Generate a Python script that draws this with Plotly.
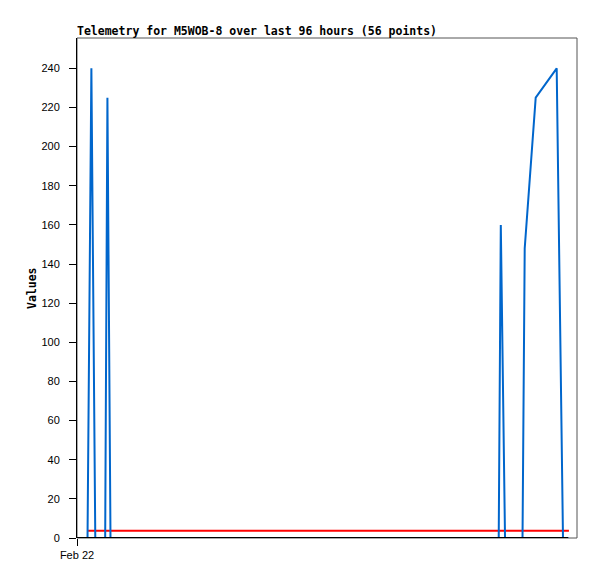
#!/usr/bin/env python3
"""
Telemetry chart for M5WOB-8 (last 96 hours)
"""

from datetime import datetime, timedelta

import plotly.graph_objects as go

# Start of the 96 hour window
start = datetime(2024, 2, 22, 0, 0)
window_hours = 96

# Blue series: hours since start, values
value_hours = [2.02, 2.76, 3.51, 5.41, 5.84, 6.43, 80.97, 81.37, 82.18,
               85.54, 85.96, 88.07, 92.10, 93.31, 94.37]
value_values = [0, 240, 0, 0, 225, 0, 0, 160, 0,
                0, 148, 225, 240, 0, 0]

# Red reference series
limit_hours = [2.12, 94.45]
limit_values = [3.7, 3.7]

# Black zero series
zero_hours = [0, 94.3]
zero_values = [0, 0]

x_tick_labels = ["Feb 22"]
y_ticks = [0, 20, 40, 60, 80, 100, 120, 140, 160, 180, 200, 220, 240]

# page body has an 8px margin, so the figure is drawn 8px smaller
FIG_W, FIG_H = 589, 571


def to_dates(hours):
    return [start + timedelta(hours=h) for h in hours]


fig = go.Figure()

fig.add_trace(
    go.Scatter(
        x=to_dates(limit_hours),
        y=limit_values,
        mode="lines",
        line=dict(color="#ff0000", width=2),
        cliponaxis=False,
        hoverinfo="skip",
    )
)

fig.add_trace(
    go.Scatter(
        x=to_dates(value_hours),
        y=value_values,
        mode="lines",
        line=dict(color="#0066cc", width=2),
        cliponaxis=False,
    )
)

fig.add_trace(
    go.Scatter(
        x=to_dates(zero_hours),
        y=zero_values,
        mode="lines",
        line=dict(color="#000000", width=2),
        cliponaxis=False,
        hoverinfo="skip",
    )
)

# Gray frame around the plot area
fig.add_shape(
    type="rect",
    xref="paper", yref="paper",
    x0=0, y0=0, x1=1, y1=1,
    line=dict(color="#555555", width=1),
    layer="below",
)

fig.update_layout(
    width=FIG_W,
    height=FIG_H,
    showlegend=False,
    plot_bgcolor="white",
    paper_bgcolor="white",
    margin=dict(l=69, r=20, t=30, b=41),
    title=dict(
        text="<b>Telemetry for M5WOB-8 over last 96 hours (56 points)</b>",
        font=dict(family="DejaVu Sans Mono", size=11.5, color="black"),
        x=69 / FIG_W,
        xanchor="left",
        xref="container",
        y=1 - 23 / FIG_H,
        yanchor="middle",
    ),
    xaxis=dict(
        type="date",
        range=[start, start + timedelta(hours=window_hours)],
        tickvals=[start],
        ticktext=x_tick_labels,
        ticks="outside",
        ticklen=7,
        tickcolor="black",
        showgrid=False,
        zeroline=False,
        showline=False,
        tickfont=dict(family="Liberation Sans", size=11, color="black"),
    ),
    yaxis=dict(
        range=[0, 255.5],
        tickvals=y_ticks,
        ticks="outside",
        ticklen=7,
        tickcolor="black",
        ticklabelstandoff=7,
        showgrid=False,
        zeroline=False,
        showline=True,
        linecolor="black",
        linewidth=1,
        tickfont=dict(family="Liberation Sans", size=11, color="black"),
    ),
    annotations=[
        dict(
            text="<b>Values</b>",
            xref="paper", yref="paper",
            x=(32 - 77) / 500, y=0.5,
            xanchor="center",
            yanchor="middle",
            textangle=-90,
            showarrow=False,
            font=dict(family="DejaVu Sans Mono", size=11.5, color="black"),
        )
    ],
)

fig.write_html("out.html")
